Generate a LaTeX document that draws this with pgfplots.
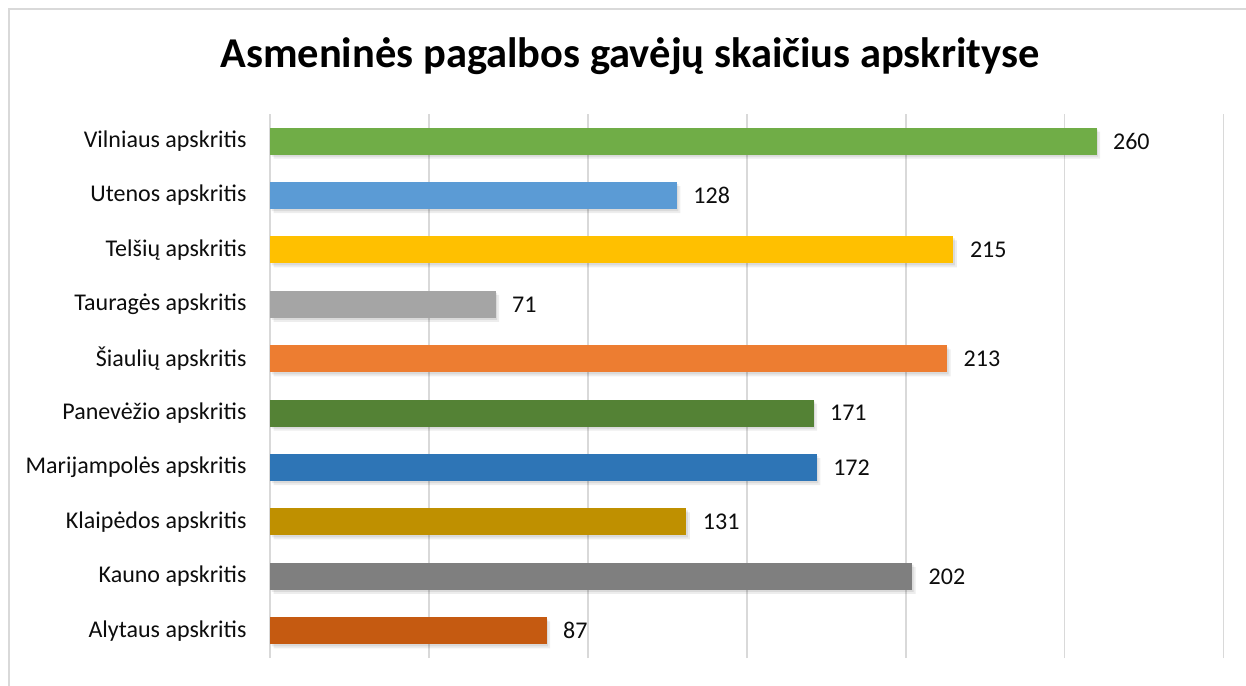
\documentclass[border=0pt]{standalone}
\usepackage{pgfplots}
\pgfplotsset{compat=1.18}
\usepackage{pgfplotstable}
\usepackage{fontspec}
\setmainfont{Carlito}
\definecolor{cVil}{HTML}{70AD47}
\definecolor{cUte}{HTML}{5B9BD5}
\definecolor{cTel}{HTML}{FFC000}
\definecolor{cTau}{HTML}{A5A5A5}
\definecolor{cSia}{HTML}{ED7D31}
\definecolor{cPan}{HTML}{548235}
\definecolor{cMar}{HTML}{2E75B6}
\definecolor{cKla}{HTML}{BF9000}
\definecolor{cKau}{HTML}{7F7F7F}
\definecolor{cAly}{HTML}{C55A11}
\pgfplotstableread{
y x
0 87
1 202
2 131
3 172
4 171
5 213
6 71
7 215
8 128
9 260
}\datatable
\begin{document}
\begin{tikzpicture}[x=1pt,y=1pt]
\useasboundingbox (0pt,0pt) rectangle (1246pt,685pt);
\fill[white] (0pt,0pt) rectangle (1246pt,685pt);
\draw[color=black!15, line width=1.5pt] (9pt,-20pt) -- (9pt,676pt) -- (1270pt,676pt);
\node[font=\bfseries\fontsize{42.5}{48}\selectfont, anchor=base] at (630pt,617pt) {Asmeninės pagalbos gavėjų skaičius apskrityse};
\begin{axis}[
  at={(270pt,27pt)}, anchor=south west,
  scale only axis, width=953.7pt, height=544pt,
  xmin=0, xmax=300, ymin=-0.5, ymax=9.5,
  xbar, bar width=27pt, bar shift=0pt,
  xtick={0,50,...,300}, xticklabels={},
  xmajorgrids, grid style={line width=1.4pt, color=black!15},
  major tick length=0pt, axis line style={draw=none},
  ytick={0,...,9},
  yticklabels={Alytaus apskritis, Kauno apskritis, Klaipėdos apskritis, Marijampolės apskritis, Panevėžio apskritis, Šiaulių apskritis, Tauragės apskritis, Telšių apskritis, Utenos apskritis, Vilniaus apskritis},
  yticklabel style={font=\fontsize{24}{28}\selectfont, text=black!95, xshift=-20pt},
  /pgf/number format/assume math mode=true,
  clip=false,
  lbl/.style={nodes near coords, nodes near coords style={font=\fontsize{24}{28}\selectfont, text=black!95, anchor=west, xshift=13pt}},
]
\addplot[fill=black, draw=none, opacity=0.07, xshift=3.5pt, bar shift=-4pt, forget plot] table[x=x,y=y]{\datatable};
\addplot[fill=black, draw=none, opacity=0.08, xshift=1.5pt, bar shift=-2pt, forget plot] table[x=x,y=y]{\datatable};
\addplot[fill=cAly, draw=none, lbl] coordinates {(87,0)};
\addplot[fill=cKau, draw=none, lbl] coordinates {(202,1)};
\addplot[fill=cKla, draw=none, lbl] coordinates {(131,2)};
\addplot[fill=cMar, draw=none, lbl] coordinates {(172,3)};
\addplot[fill=cPan, draw=none, lbl] coordinates {(171,4)};
\addplot[fill=cSia, draw=none, lbl] coordinates {(213,5)};
\addplot[fill=cTau, draw=none, lbl] coordinates {(71,6)};
\addplot[fill=cTel, draw=none, lbl] coordinates {(215,7)};
\addplot[fill=cUte, draw=none, lbl] coordinates {(128,8)};
\addplot[fill=cVil, draw=none, lbl] coordinates {(260,9)};
\end{axis}
\end{tikzpicture}
\end{document}
